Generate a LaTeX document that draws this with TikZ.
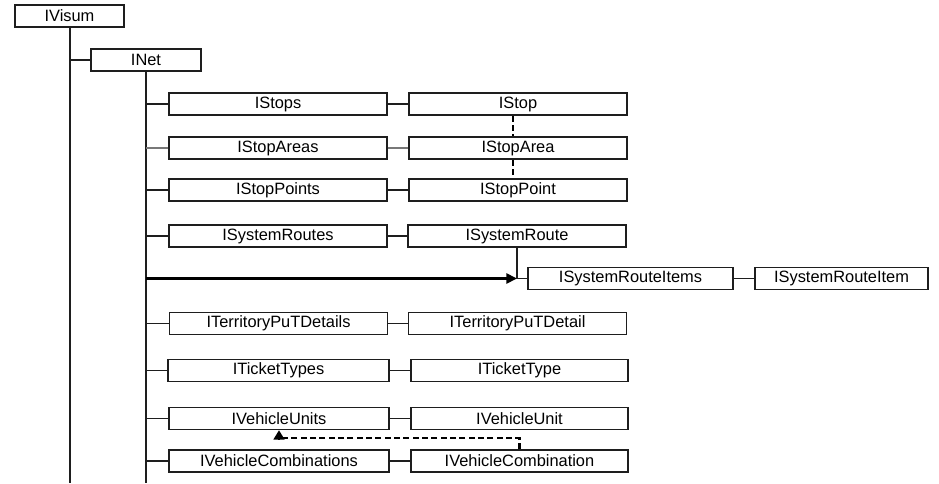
\documentclass[tikz,border=0pt]{standalone}
\usepackage{fontspec}
\setmainfont{Liberation Sans}
\usetikzlibrary{arrows.meta,positioning}
\definecolor{boxline}{RGB}{30,30,30}
\definecolor{thinline}{RGB}{120,120,120}

\begin{document}
\begin{tikzpicture}[x=0.75pt,y=-0.75pt,
  box/.style={draw=boxline,line width=1pt,minimum height=16.5pt,inner sep=0pt,
              font=\fontsize{12.3}{14}\selectfont,anchor=center},
  lbox/.style={box,minimum width=163.5pt},
  rbox/.style={box,minimum width=163.5pt},
  conn/.style={draw=boxline,line width=0.9pt},
  dashconn/.style={draw=black,line width=1.6pt,dash pattern=on 4.5pt off 2.5pt},
  bigarr/.style={-{Triangle[length=8pt,width=7.5pt]},line width=2.3pt,color=black}]
\useasboundingbox (0,0) rectangle (939,483);
% root and net
\node[box,minimum width=81.75pt](visum) at (69.5,16) {IVisum};
\node[box,minimum width=82.5pt](net) at (146,60) {INet};
\coordinate (visumend) at (70,483);
\coordinate (netend) at (146,483);
\draw[conn] (visum.south -| visumend) -- (visumend);
\draw[conn] (net.south) -- (netend);
\draw[conn] (net.west) -- (net.west -| visumend);
% collections (left) and items (right)
\node[lbox](stops)    at (278,104) {IStops};
\node[rbox](stop)     at (518,104) {IStop};
\node[lbox](areas)    at (278,148) {IStopAreas};
\node[rbox](area)     at (518,148) {IStopArea};
\node[lbox](points)   at (278,190) {IStopPoints};
\node[rbox](point)    at (518,190) {IStopPoint};
\node[lbox](routes)   at (278,236) {ISystemRoutes};
\node[rbox](route)    at (517,236) {ISystemRoute};
\node[box,minimum width=153.75pt](ritems) at (630.5,278.5) {ISystemRouteItems};
\node[box,minimum width=129.75pt](ritem)  at (841.5,278.5) {ISystemRouteItem};
\node[lbox](terrs)    at (278.5,323.5) {ITerritoryPuTDetails};
\node[rbox](terr)     at (517.5,323.5) {ITerritoryPuTDetail};
\node[lbox,minimum width=165.75pt](tickets) at (278.5,370.5) {ITicketTypes};
\node[rbox,minimum width=162.75pt](ticket)  at (519.5,370.5) {ITicketType};
\node[lbox,minimum width=165pt](units) at (279,418.5) {IVehicleUnits};
\node[rbox,minimum width=162.75pt](unit)    at (519.5,418.5) {IVehicleUnit};
\node[lbox,minimum width=165pt](combs) at (279,461) {IVehicleCombinations};
\node[rbox,minimum width=162.75pt](comb)    at (519.5,461) {IVehicleCombination};
% branches from INet
\foreach \n in {stops,points,routes,terrs,tickets,units,combs}
  \draw[conn] (\n.west) -- (\n.west -| netend);
\draw[conn,draw=thinline] (areas.west) -- (areas.west -| netend);
\draw[conn] (stops) -- (stop);
\draw[conn,draw=thinline] (areas) -- (area);
\draw[conn] (points) -- (point);
\draw[conn] (routes) -- (route);
\draw[conn] (terrs) -- (terr);
\draw[conn] (tickets) -- (ticket);
\draw[conn] (units) -- (unit);
\draw[conn] (combs) -- (comb);
\draw[conn] (ritems) -- (ritem);
% route items
\draw[bigarr] (ritems.west -| netend) -- (ritems.west -| route.south);
\draw[conn] (route.south) -- (ritems.west -| route.south) -- (ritems.west);
% dashed links
\draw[dashconn] ([xshift=-3.75pt]stop.south) -- ([xshift=-3.75pt]area.north);
\draw[dashconn] ([xshift=-3.75pt]area.south) -- ([xshift=-3.75pt]point.north);
\draw[dashconn,-{Triangle[length=7pt,width=8pt]}] (comb.north) -- ++(0,-11) -| (units.south);
\end{tikzpicture}
\end{document}
